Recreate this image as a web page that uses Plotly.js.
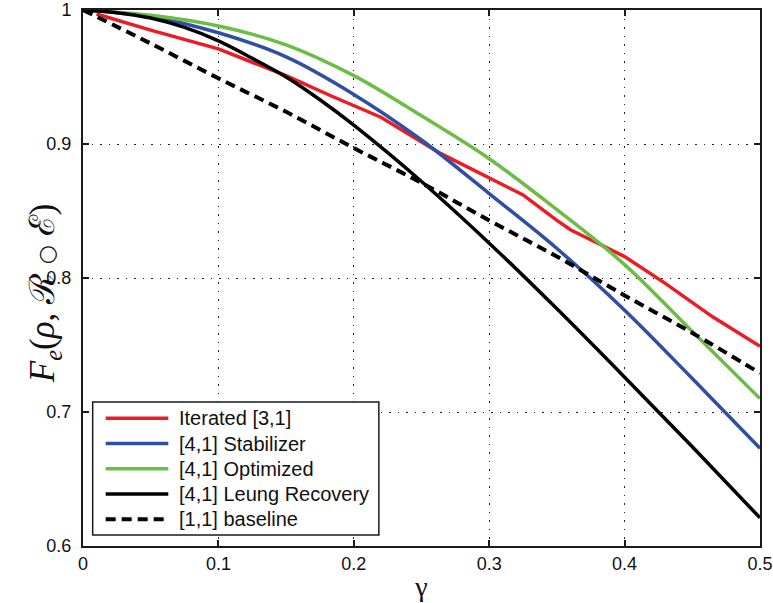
<!DOCTYPE html>
<html>
<head>
<meta charset="utf-8">
<script src="https://cdn.plot.ly/plotly-3.0.1.min.js"></script>
<style>
  html, body { margin: 0; padding: 0; background: #ffffff; }
  #plot-fidelity { width: 773px; height: 603px; }
</style>
</head>
<body>
<div id="plot-fidelity"></div>
<script>
// values
const gammaGrid = [0, 0.05, 0.1, 0.15, 0.2, 0.25, 0.3, 0.35, 0.4, 0.45, 0.5];
const leungGamma = [0, 0.025, 0.05, 0.075, 0.1, 0.125, 0.15, 0.175, 0.2, 0.25, 0.3, 0.35, 0.4, 0.45, 0.5];

const iteratedGamma = [0.01, 0.05, 0.1, 0.15, 0.183, 0.22, 0.264, 0.29, 0.325, 0.35, 0.36, 0.382, 0.4, 0.43, 0.465, 0.5];
const iteratedF = [0.997, 0.985, 0.971, 0.951, 0.936, 0.920, 0.893, 0.880, 0.862, 0.843, 0.836, 0.825, 0.816, 0.796, 0.771, 0.749];

const stabilizerF = [1.000, 0.995, 0.983, 0.965, 0.937, 0.903, 0.863, 0.822, 0.776, 0.725, 0.673];
const optimizedF  = [1.000, 0.996, 0.988, 0.974, 0.951, 0.921, 0.889, 0.851, 0.810, 0.760, 0.710];
const leungF      = [1.000, 0.998, 0.994, 0.987, 0.977, 0.964, 0.950, 0.933, 0.914, 0.872, 0.826, 0.777, 0.726, 0.674, 0.621];
const baselineF   = [1.000, 0.975, 0.949, 0.924, 0.897, 0.871, 0.843, 0.816, 0.787, 0.759, 0.729];

const seriesNames = ['Iterated [3,1]', '[4,1] Stabilizer', '[4,1] Optimized', '[4,1] Leung Recovery', '[1,1] baseline'];
const seriesColors = ['#ed1c24', '#2e4fa3', '#6cbd45', '#000000', '#000000'];

const xTickVals = [0, 0.1, 0.2, 0.3, 0.4, 0.5];
const xTickText = ['0', '0.1', '0.2', '0.3', '0.4', '0.5'];
const yTickVals = [0.6, 0.7, 0.8, 0.9, 1];
const yTickText = ['0.6', '0.7', '0.8', '0.9', '1'];

const seriesX = [iteratedGamma, gammaGrid, gammaGrid, leungGamma, gammaGrid];
const seriesY = [iteratedF, stabilizerF, optimizedF, leungF, baselineF];
const seriesDash = ['solid', 'solid', 'solid', 'solid', '10px,6px'];

const traces = seriesNames.map((name, i) => ({
    x: seriesX[i],
    y: seriesY[i],
    name: name,
    type: 'scatter',
    mode: 'lines',
    line: {
        color: seriesColors[i],
        width: i === 4 ? 4 : 3.5,
        dash: seriesDash[i],
        shape: i === 0 ? 'linear' : 'spline',
        smoothing: 1
    },
    showlegend: false
}));

const axisCommon = {
    showline: true,
    linecolor: '#1a1a1a',
    linewidth: 2,
    mirror: 'ticks',
    ticks: 'inside',
    ticklen: 6,
    tickwidth: 1.5,
    tickcolor: '#1a1a1a',
    showgrid: true,
    gridcolor: '#222222',
    gridwidth: 1.3,
    griddash: '1.5px,7px',
    zeroline: false,
    tickfont: { family: 'Liberation Sans, Arial, sans-serif', size: 18, color: '#111111' }
};

const layout = {
    width: 773,
    height: 603,
    margin: { t: 10, r: 13, b: 57, l: 83 },
    plot_bgcolor: '#ffffff',
    paper_bgcolor: '#ffffff',
    showlegend: false,
    xaxis: Object.assign({}, axisCommon, {
        range: [0, 0.5],
        tickvals: xTickVals,
        ticktext: xTickText,
        ticklabelstandoff: 0,
        title: {
            text: 'γ',
            font: { family: 'Liberation Serif, DejaVu Serif, serif', size: 28, color: '#111111' },
            standoff: 4
        }
    }),
    yaxis: Object.assign({}, axisCommon, {
        range: [0.6, 1],
        tickvals: yTickVals,
        ticktext: yTickText,
        ticklabelstandoff: 6
    }),
    annotations: [{
        xref: 'paper', yref: 'paper',
        x: -0.092, y: 0.472,
        text: '<i>F</i><sub><i>e</i></sub>(<i>ρ</i>, ℛ <span style="font-family:DejaVu Sans;font-size:22px">○</span> ℰ)',
        textangle: -90,
        showarrow: false,
        font: { family: 'Liberation Serif, DejaVu Serif, serif', size: 35, color: '#111111' }
    }],
    shapes: [{
        type: 'rect', xref: 'paper', yref: 'paper',
        x0: 0.0143, x1: 0.437, y0: 0.0205, y1: 0.2687,
        fillcolor: '#ffffff',
        line: { color: '#1a1a1a', width: 1.5 }
    }]
};

// Hand-drawn legend box, MATLAB style
const legendTop = 0.2382;
const legendStep = 0.0471;
seriesNames.forEach((name, i) => {
    const yRow = legendTop - i * legendStep;
    layout.shapes.push({
        type: 'line', xref: 'paper', yref: 'paper',
        x0: 0.0335, x1: 0.126, y0: yRow, y1: yRow,
        line: { color: seriesColors[i], width: i === 4 ? 4 : 3.5, dash: seriesDash[i] }
    });
    layout.annotations.push({
        xref: 'paper', yref: 'paper',
        x: 0.1387, y: yRow,
        xanchor: 'left', yanchor: 'middle',
        text: name,
        showarrow: false,
        font: { family: 'Liberation Sans, Arial, sans-serif', size: 20, color: '#111111' }
    });
});

Plotly.newPlot('plot-fidelity', traces, layout, { displayModeBar: false, responsive: false });
</script>
</body>
</html>
